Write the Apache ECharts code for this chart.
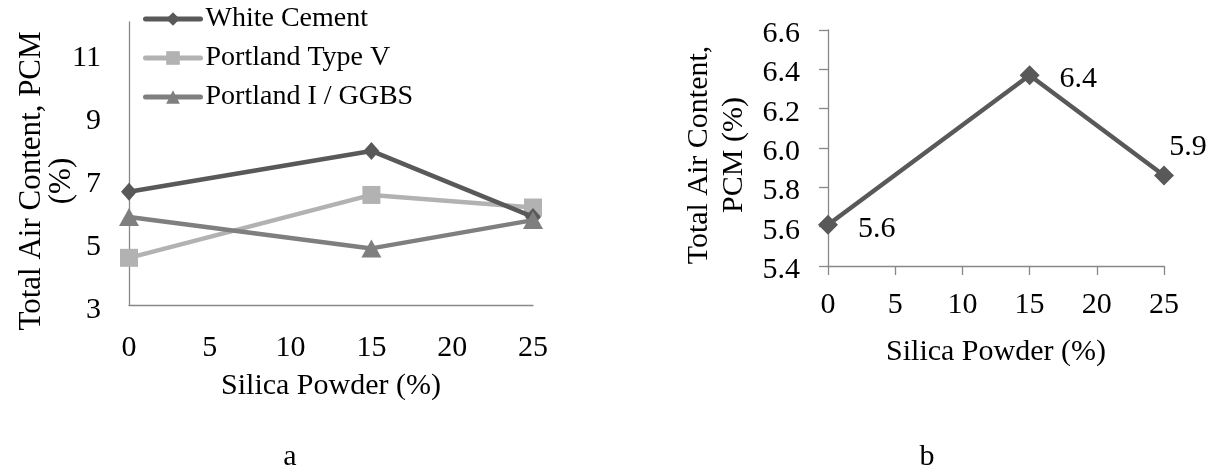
<!DOCTYPE html>
<html>
<head>
<meta charset="utf-8">
<script src="https://cdn.jsdelivr.net/npm/echarts@6/dist/echarts.min.js"></script>
<style>
  html, body { margin: 0; padding: 0; background: #fff; }
  #main { width: 1215px; height: 475px; }
</style>
</head>
<body>
<div id="main"></div>
<script>
// panel a
var silicaA = [0, 15, 25];
var whiteCement = [6.6, 7.9, 5.8];
var portlandV = [4.5, 6.5, 6.1];
var portlandGgbs = [5.8, 4.8, 5.7];
var yTicksA = [3, 5, 7, 9, 11];
// panel b
var silicaB = [0, 15, 25];
var pcmB = [5.61, 6.37, 5.86];

var font = 'Liberation Serif, Times New Roman, serif';

function pairs(xs, ys) {
  return xs.map(function (x, i) { return [x, ys[i]]; });
}

var myChart = echarts.init(document.getElementById('main'));

var axisLineStyle = { color: '#888888', width: 1.3 };

myChart.setOption({
  animation: false,
  backgroundColor: '#ffffff',
  textStyle: { fontFamily: font },
  legend: {
    left: 138,
    top: 0,
    orient: 'vertical',
    itemWidth: 55,
    itemHeight: 17,
    itemGap: 11,
    lineStyle: { width: 5, cap: 'round' },
    textStyle: { fontFamily: font, fontSize: 28, color: '#000', lineHeight: 28 },
    data: ['White Cement', 'Portland Type V', 'Portland I / GGBS']
  },
  grid: [
    { left: 129, top: 22, width: 404, height: 283 },
    { left: 828, top: 30, width: 336, height: 236 }
  ],
  xAxis: [
    {
      gridIndex: 0, type: 'value', min: 0, max: 25, interval: 5,
      name: 'Silica Powder (%)', nameLocation: 'middle', nameGap: 66,
      nameTextStyle: { fontFamily: font, fontSize: 30, color: '#000' },
      axisLine: { lineStyle: axisLineStyle },
      axisTick: { show: false },
      splitLine: { show: false },
      axisLabel: { margin: 28, fontFamily: font, fontSize: 30, color: '#000' }
    },
    {
      gridIndex: 1, type: 'value', min: 0, max: 25, interval: 5,
      name: 'Silica Powder (%)', nameLocation: 'middle', nameGap: 71,
      nameTextStyle: { fontFamily: font, fontSize: 30, color: '#000' },
      axisLine: { lineStyle: axisLineStyle },
      axisTick: { show: true, inside: false, length: 9, lineStyle: axisLineStyle },
      splitLine: { show: false },
      axisLabel: { margin: 24, fontFamily: font, fontSize: 30, color: '#000' }
    }
  ],
  yAxis: [
    {
      gridIndex: 0, type: 'value', min: 3, max: 12, interval: 1,
      axisLine: { show: true, lineStyle: axisLineStyle },
      axisTick: { show: false },
      splitLine: { show: false },
      axisLabel: {
        margin: 28, fontFamily: font, fontSize: 30, color: '#000',
        verticalAlign: 'top', lineHeight: 10,
        formatter: function (v) { return yTicksA.indexOf(v) >= 0 ? String(v) : ''; }
      }
    },
    {
      gridIndex: 1, type: 'value', min: 5.4, max: 6.6, interval: 0.2,
      axisLine: { show: true, lineStyle: axisLineStyle },
      axisTick: { show: true, inside: false, length: 9, lineStyle: axisLineStyle },
      splitLine: { show: false },
      axisLabel: {
        margin: 28, fontFamily: font, fontSize: 30, color: '#000',
        verticalAlign: 'top', lineHeight: 8,
        formatter: function (v) { return v.toFixed(1); }
      }
    }
  ],
  series: [
    {
      name: 'White Cement', type: 'line', xAxisIndex: 0, yAxisIndex: 0,
      data: pairs(silicaA, whiteCement),
      symbol: 'diamond', symbolSize: [16, 18],
      lineStyle: { width: 4.5, color: '#595959' },
      itemStyle: { color: '#595959' }, z: 4
    },
    {
      name: 'Portland Type V', type: 'line', xAxisIndex: 0, yAxisIndex: 0,
      data: pairs(silicaA, portlandV),
      symbol: 'rect', symbolSize: 18,
      lineStyle: { width: 4.5, color: '#b2b2b2' },
      itemStyle: { color: '#b2b2b2' }, z: 3
    },
    {
      name: 'Portland I / GGBS', type: 'line', xAxisIndex: 0, yAxisIndex: 0,
      data: pairs(silicaA, portlandGgbs),
      symbol: 'triangle', symbolSize: [20, 18],
      lineStyle: { width: 4.5, color: '#7f7f7f' },
      itemStyle: { color: '#7f7f7f' }, z: 5
    },
    {
      name: 'PCM', type: 'line', xAxisIndex: 1, yAxisIndex: 1,
      data: pairs(silicaB, pcmB).map(function (p, i) {
        // last label sits above-right of the point
        if (i === pcmB.length - 1) {
          return { value: p, label: { position: 'top', distance: 5, offset: [24, 2] } };
        }
        return p;
      }),
      symbol: 'diamond', symbolSize: [20, 20],
      lineStyle: { width: 4.5, color: '#595959' },
      itemStyle: { color: '#595959' },
      label: {
        show: true, position: 'right', distance: 20, offset: [0, 4],
        fontFamily: font, fontSize: 30, color: '#000',
        formatter: function (p) { return p.value[1].toFixed(1); }
      }
    }
  ],
  graphic: [
    {
      type: 'text', x: 47, y: 181, rotation: Math.PI / 2,
      style: {
        text: 'Total Air Content, PCM\n(%)', fontFamily: font, fontSize: 31,
        lineHeight: 30, fill: '#000', align: 'center', verticalAlign: 'middle'
      }
    },
    {
      type: 'text', x: 717, y: 155, rotation: Math.PI / 2,
      style: {
        text: 'Total Air Content,\nPCM (%)', fontFamily: font, fontSize: 30,
        lineHeight: 35, fill: '#000', align: 'center', verticalAlign: 'middle'
      }
    },
    {
      type: 'text', x: 290, y: 457,
      style: { text: 'a', fontFamily: font, fontSize: 30, fill: '#000', align: 'center', verticalAlign: 'middle' }
    },
    {
      type: 'text', x: 927, y: 457,
      style: { text: 'b', fontFamily: font, fontSize: 30, fill: '#000', align: 'center', verticalAlign: 'middle' }
    }
  ]
});
</script>
</body>
</html>
